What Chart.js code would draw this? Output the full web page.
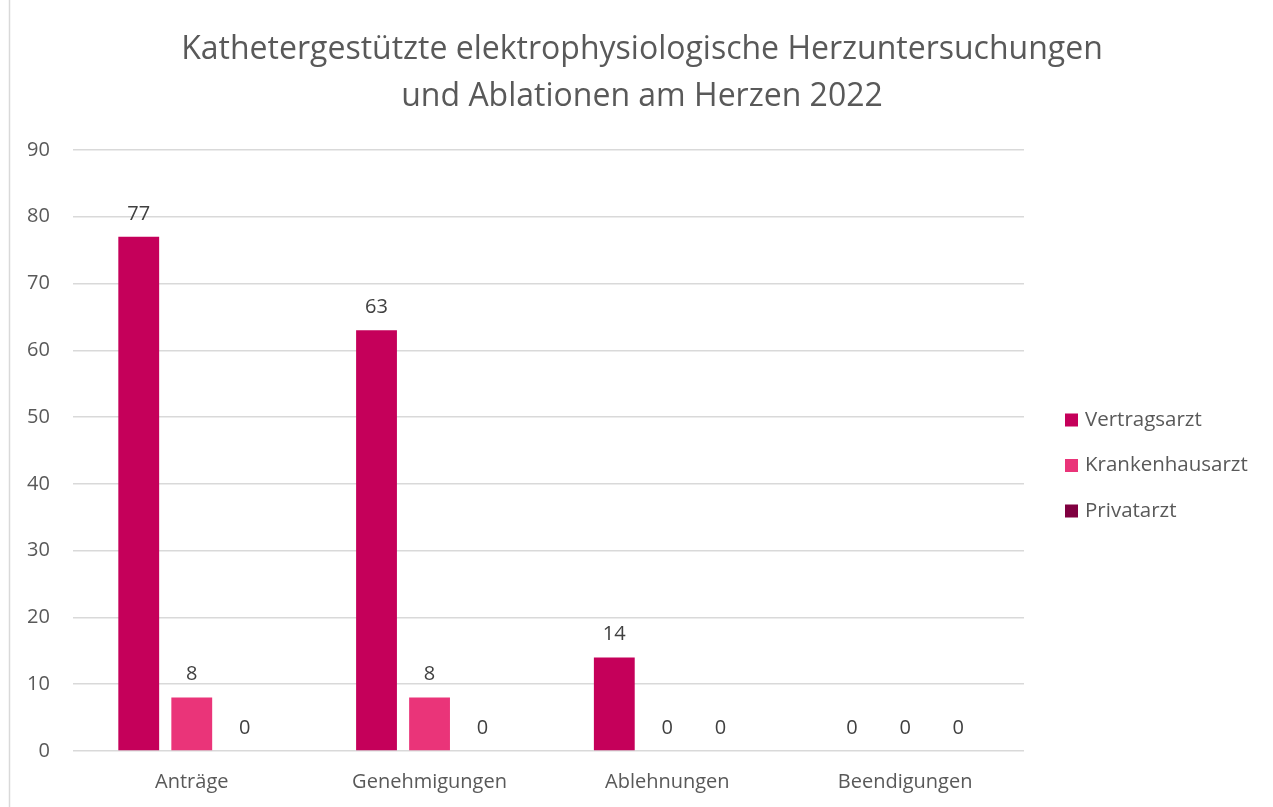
<!DOCTYPE html>
<html><head><meta charset="utf-8">
<script src="https://cdn.jsdelivr.net/npm/chart.js@4.4.0/dist/chart.umd.min.js"></script>
<style>html,body{margin:0;padding:0;background:#fff;}canvas{display:block;}</style>
</head><body>
<canvas id="c" width="1273" height="807"></canvas>
<script>
const categories = ["Anträge", "Genehmigungen", "Ablehnungen", "Beendigungen"];
const vertragsarzt = [77, 63, 14, 0];
const krankenhausarzt = [8, 8, 0, 0];
const privatarzt = [0, 0, 0, 0];
const titleLines = ["Kathetergestützte elektrophysiologische Herzuntersuchungen", "und Ablationen am Herzen 2022"];
const FONT = "'Open Sans', 'Noto Sans', sans-serif";

const labelPlugin = {
  id: 'vlabels',
  afterDatasetsDraw(chart) {
    const ctx = chart.ctx;
    ctx.save();
    ctx.font = "20px " + FONT;
    ctx.fillStyle = "#404040";
    ctx.textAlign = "center";
    ctx.textBaseline = "bottom";
    chart.data.datasets.forEach((ds, i) => {
      const meta = chart.getDatasetMeta(i);
      meta.data.forEach((bar, j) => {
        ctx.fillText(String(ds.data[j]), bar.x, bar.y - 13);
      });
    });
    ctx.restore();
  }
};
const titlePlugin = {
  id: 'pagetitle',
  afterDraw(chart) {
    const ctx = chart.ctx;
    ctx.save();
    ctx.font = "32px " + FONT;
    ctx.fillStyle = "#595959";
    ctx.textAlign = "center";
    ctx.textBaseline = "middle";
    titleLines.forEach((t, i) => ctx.fillText(t, 642, 50 + i * 47));
    ctx.restore();
  }
};
const legendPlugin = {
  id: 'sidelegend',
  afterDraw(chart) {
    const ctx = chart.ctx;
    ctx.save();
    ctx.font = "20.5px " + FONT;
    ctx.textBaseline = "middle";
    ctx.textAlign = "left";
    const x = chart.chartArea.right + 41;
    chart.data.datasets.forEach((ds, i) => {
      const cy = 420 + i * 45.5;
      ctx.fillStyle = ds.backgroundColor;
      ctx.fillRect(x, cy - 6.5, 13, 13);
      ctx.fillStyle = "#595959";
      ctx.fillText(ds.label, x + 20, cy);
    });
    ctx.restore();
  }
};
const borderPlugin = {
  id: 'leftborder',
  beforeDraw(chart) {
    const ctx = chart.ctx;
    ctx.save();
    ctx.strokeStyle = "#d9d9d9";
    ctx.lineWidth = 1.5;
    ctx.beginPath();
    ctx.moveTo(9.5, 0); ctx.lineTo(9.5, chart.height);
    ctx.stroke();
    ctx.restore();
  }
};

new Chart(document.getElementById('c'), {
  type: 'bar',
  data: {
    labels: categories,
    datasets: [
      {label: "Vertragsarzt", data: vertragsarzt, backgroundColor: "#C5005A"},
      {label: "Krankenhausarzt", data: krankenhausarzt, backgroundColor: "#EA3479"},
      {label: "Privatarzt", data: privatarzt, backgroundColor: "#800040"}
    ]
  },
  options: {
    responsive: false,
    animation: false,
    categoryPercentage: 0.669,
    barPercentage: 0.77,
    layout: {padding: {left: 4, right: 249, top: 150, bottom: 2}},
    plugins: {
      title: {display: false},
      legend: {display: false},
      tooltip: {enabled: false}
    },
    scales: {
      x: {
        grid: {display: false},
        border: {display: false},
        ticks: {color: "#595959", font: {family: FONT, size: 20}, padding: 11}
      },
      y: {
        min: 0, max: 90,
        grid: {color: "#d9d9d9", drawTicks: false, lineWidth: 1.5},
        border: {display: false},
        ticks: {stepSize: 10, color: "#595959", font: {family: FONT, size: 20}, padding: 23}
      }
    }
  },
  plugins: [labelPlugin, titlePlugin, legendPlugin, borderPlugin]
});
</script>
</body></html>
